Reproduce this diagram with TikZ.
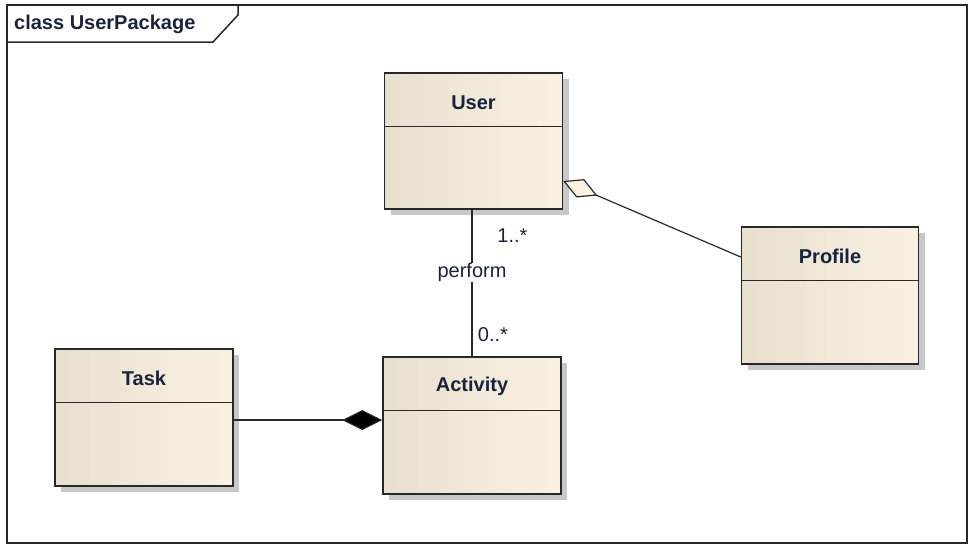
\documentclass[tikz,border=0pt]{standalone}
\usepackage{fontspec}
\setmainfont{Liberation Sans}
\usetikzlibrary{arrows.meta,shadows,calc}
\definecolor{clsleft}{RGB}{232,223,207}
\definecolor{clsright}{RGB}{251,241,226}
\definecolor{shadowgray}{RGB}{200,200,200}
\definecolor{edgegray}{RGB}{40,40,40}
\definecolor{txt}{RGB}{25,35,60}
\tikzset{
  cls/.style={rectangle, draw=edgegray, line width=1.5pt, left color=clsleft, right color=clsright,
    minimum width=177pt, minimum height=137pt, inner sep=0pt,
    drop shadow={shadow xshift=6pt, shadow yshift=-6pt, fill=shadowgray, opacity=1}},
  clstitle/.style={font=\fontsize{20}{24}\selectfont\bfseries, text=txt, inner sep=0pt},
  divider/.style={draw=edgegray, line width=1.5pt},
  conn/.style={draw=edgegray, line width=1.2pt},
  lbl/.style={font=\fontsize{20}{24}\selectfont, text=txt, inner sep=0pt},
  framestyle/.style={draw=edgegray, line width=1.5pt}
}
\begin{document}
\begin{tikzpicture}[x=1pt,y=-1pt]
\useasboundingbox (0,0) rectangle (970,546);
% frame
\draw[framestyle] (7,5) rectangle (967,543);
\draw[framestyle] (238,5) -- (238,15) -- (213,42) -- (7,42);
\node[clstitle, anchor=west] (frametitle) at (14,24) {class UserPackage};

% classes
\node[cls, minimum width=178pt, minimum height=136pt] (user) at (473.5,141) {};
\node[cls, minimum width=178pt] (task) at (144,417.5) {};
\node[cls, minimum width=178pt] (activity) at (472,425.5) {};
\node[cls] (profile) at (830,295.5) {};

\foreach \n/\t in {user/User, task/Task, activity/Activity, profile/Profile}{
  \draw[divider] ([yshift=-54pt]\n.north west) -- ([yshift=-54pt]\n.north east);
  \node[clstitle] (\n-title) at ([yshift=-30pt]\n.north) {\t};
}

% association User - Activity
\draw[conn] (user.south -| activity.north) -- node[pos=0.43, fill=white, inner xsep=1pt, inner ysep=5pt, lbl] (perform) {perform} (activity.north);
\node[lbl] (m1) at ([xshift=39pt,yshift=-26pt]user.south) {1..*};
\node[lbl] (m2) at ([xshift=21pt,yshift=22pt]activity.north) {0..*};

% aggregation User <>- Profile
\draw[conn, -{Diamond[length=37pt,width=20pt,fill=clsright,line width=1.2pt]}]
  ([yshift=38.5pt]profile.west) -- ([yshift=-40pt]user.east);

% composition Activity <#>- Task
\draw[conn, -{Diamond[length=40pt,width=20pt,fill=black]}]
  ([yshift=-2.5pt]task.east) -- ([yshift=5.5pt]activity.west);
\end{tikzpicture}
\end{document}
